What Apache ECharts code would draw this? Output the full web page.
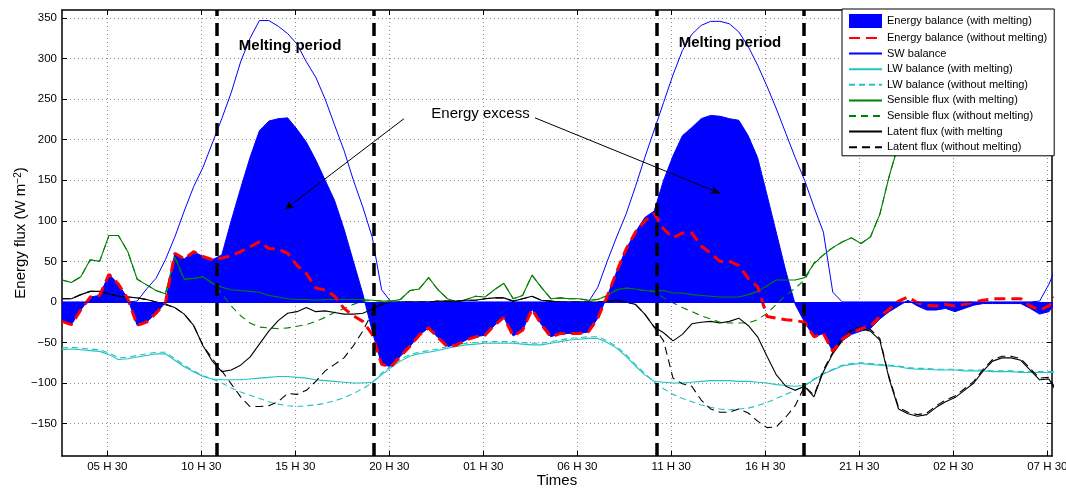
<!DOCTYPE html>
<html>
<head>
<meta charset="utf-8">
<title>Energy balance during melting periods</title>
<script src="https://cdn.jsdelivr.net/npm/echarts@6.0.0/dist/echarts.min.js"></script>
<style>
  html, body { margin: 0; padding: 0; background: #fff; }
  #chart { width: 1066px; height: 488px; }
</style>
</head>
<body>
<div id="chart"></div>
<script>
// Half-hourly samples; time is counted in hours from 00:00 of the first day.
const T0 = 3.09;
const STEP = 0.5;
const X_MIN = 3.09, X_MAX = 55.75;
const Y_MIN = -190, Y_MAX = 360;

const tickHours = [5.5, 10.5, 15.5, 20.5, 25.5, 30.5, 35.5, 40.5, 45.5, 50.5, 55.5];
const tickLabels = ['05 H 30', '10 H 30', '15 H 30', '20 H 30', '01 H 30', '06 H 30',
                    '11 H 30', '16 H 30', '21 H 30', '02 H 30', '07 H 30'];
const yTicks = [-150, -100, -50, 0, 50, 100, 150, 200, 250, 300, 350];

// Start and end of the two melting periods (hours)
const meltBounds = [11.32, 19.69, 34.72, 42.57];

// Energy balance (W m-2)
const energyWithMelt = [
  -24, -28, -10, 6, 8, 34, 22, 4, -29, -25,
  -14, -1, 60, 53, 62, 56, 52, 58, 100, 140,
  178, 211, 223, 226, 227, 213, 197, 175, 150, 125,
  90, 50, 10, -36, -77, -80, -67, -55, -41, -32,
  -44, -55, -53, -47, -43, -41, -29, -19, -42, -35,
  -9, -28, -43, -39, -39, -39, -37, -20, 7, 37,
  65, 86, 104, 112, 150, 180, 205, 215, 226, 230,
  229, 226, 224, 205, 178, 132, 85, 38, -3, -25,
  -43, -39, -61, -48, -40, -36, -33, -21, -12, -5,
  2, -5, -10, -10, -8, -12, -8, -4, -2, -2,
  -2, -2, -2, -8, -15, -12, 5
];
const energyNoMelt = [
  -24, -28, -10, 6, 8, 34, 22, 4, -29, -25,
  -14, -1, 60, 53, 62, 56, 52, 54, 57, 62,
  68, 74, 66, 65, 60, 45, 35, 17, 15, 7,
  -8, -17, -24, -40, -77, -80, -67, -55, -41, -32,
  -44, -55, -53, -47, -43, -41, -29, -19, -42, -35,
  -9, -28, -43, -39, -39, -39, -37, -20, 7, 37,
  65, 86, 100, 109, 90, 79, 85, 85, 69, 60,
  50, 50, 45, 29, 19, -18, -20, -22, -23, -25,
  -43, -39, -61, -46, -38, -33, -30, -18, -9, 1,
  6, -1, -4, -5, -3, -5, -3, 0, 2, 4,
  4, 4, 4, -5, -10, -5, 12
];
// Shortwave balance
const swBalance = [
  0, 0, 0, 0, 0, 0, 0, 0, 1, 16,
  29, 52, 80, 112, 142, 166, 196, 226, 258, 296,
  325, 347, 347, 340, 331, 318, 296, 277, 250, 218,
  187, 150, 117, 80, 15, 0, 0, 0, 0, 0,
  0, 0, 0, 0, 0, 0, 0, 0, 0, 0,
  0, 0, 0, 0, 0, 0, 0, 18, 50, 80,
  108, 142, 178, 212, 246, 280, 310, 330, 341, 346,
  346, 343, 333, 315, 292, 266, 238, 208, 178, 150,
  117, 86, 12, 0, 0, 0, 0, 0, 0, 0,
  0, 0, 0, 0, 0, 0, 0, 0, 0, 0,
  0, 0, 0, 0, 1, 22, 50
];
// Longwave balance
const lwWithMelt = [
  -59, -58, -59, -60, -61, -65, -71, -70, -68, -66,
  -64, -64, -72, -80, -86, -92, -95, -96, -96, -96,
  -95, -94, -93, -92, -92, -93, -94, -96, -97, -98,
  -99, -100, -100, -99, -90, -81, -73, -67, -64, -62,
  -60, -57, -55, -53, -52, -51, -51, -51, -51, -52,
  -53, -53, -51, -49, -47, -46, -45, -45, -50, -57,
  -67, -79, -90, -98, -99, -100, -100, -99, -98, -97,
  -97, -97, -98, -98, -99, -100, -102, -103, -104, -103,
  -96, -89, -84, -79, -77, -76, -77, -78, -79, -80,
  -82, -83, -83, -84, -84, -84, -85, -85, -85, -86,
  -86, -86, -87, -87, -87, -87, -87
];
const lwNoMelt = [
  -57, -56, -57, -58, -59, -63, -69, -68, -66, -64,
  -62, -62, -70, -78, -85, -91, -95, -100, -106, -111,
  -115, -119, -123, -126, -128, -129, -128, -127, -125, -122,
  -118, -113, -107, -100, -88, -79, -71, -65, -62, -60,
  -58, -55, -53, -51, -50, -49, -49, -49, -49, -50,
  -51, -51, -49, -47, -45, -44, -43, -43, -48, -55,
  -65, -77, -88, -99, -107, -114, -119, -123, -127, -130,
  -132, -133, -132, -131, -128, -124, -119, -114, -109, -104,
  -95, -88, -83, -78, -76, -75, -76, -77, -78, -79,
  -81, -82, -82, -83, -83, -83, -84, -84, -84, -85,
  -85, -85, -86, -86, -86, -86, -86
];
// Sensible heat flux
const sensWithMelt = [
  27, 24, 31, 52, 50, 82, 82, 62, 28, 21,
  14, 10, 55, 28, 29, 31, 23, 18, 15, 14,
  13, 12, 8, 6, 4, 3, 3, 2, 3, 3,
  3, 3, 3, 2, 1, 1, 3, 14, 16, 30,
  15, 4, 0, 3, 7, 6, 15, 23, 4, 8,
  33, 18, 4, 5, 4, 4, 2, 3, 8, 15,
  17, 16, 14, 13, 14, 11, 11, 9, 8, 7,
  6, 6, 6, 9, 13, 20, 27, 27, 27, 30,
  47, 58, 67, 74, 79, 72, 80, 108, 155, 195,
  215, 225, 230, 235, 240, 238, 235, 230, 228, 226,
  222, 220, 218, 215, 213, 210, 210
];
const sensNoMelt = [
  27, 24, 31, 52, 50, 82, 82, 62, 28, 21,
  14, 10, 55, 28, 29, 31, 23, 10, -5, -17,
  -26, -31, -32, -33, -32, -30, -28, -24, -19, -13,
  -8, -3, 1, 2, 1, 1, 3, 14, 16, 30,
  15, 4, 0, 3, 7, 6, 15, 23, 4, 8,
  33, 18, 4, 5, 4, 4, 2, 3, 8, 15,
  17, 16, 14, 13, 5, -1, -7, -12, -17, -21,
  -25, -26, -26, -26, -22, -14, -3, 8, 17, 27,
  48, 58, 67, 74, 79, 72, 80, 108, 155, 195,
  215, 225, 230, 235, 240, 238, 235, 230, 228, 226,
  222, 220, 218, 215, 213, 210, 210
];
// Latent heat flux
const latWithMelt = [
  4, 4, 9, 13, 13, 10, 7, 6, 5, 3,
  0, -3, -7, -15, -29, -54, -73, -86, -84, -78,
  -68, -52, -36, -23, -14, -12, -7, -12, -11, -13,
  -15, -15, -14, -9, -2, -1, 0, 0, 0, 0,
  1, 1, 1, 2, 2, 4, 5, 5, 1, 4,
  7, 2, 1, 0, 0, 0, 0, 0, 1, 2,
  0, -3, -15, -31, -38, -48, -40, -27, -25, -24,
  -26, -24, -20, -29, -43, -67, -90, -104, -109, -104,
  -117, -86, -64, -48, -35, -33, -36, -47, -95, -132,
  -138, -141, -139, -130, -123, -118, -109, -100, -85, -73,
  -69, -69, -72, -84, -96, -95, -115
];
const latNoMelt = [
  4, 4, 9, 13, 13, 10, 7, 6, 5, 3,
  0, -3, -7, -15, -29, -54, -70, -85, -101, -117,
  -129, -129, -128, -123, -113, -114, -109, -98, -85, -77,
  -69, -54, -36, -13, -3, -1, 0, 0, 0, 0,
  1, 1, 1, 2, 2, 4, 5, 5, 1, 4,
  7, 2, 1, 0, 0, 0, 0, 0, 1, 2,
  0, -3, -15, -31, -48, -94, -101, -104, -121, -132,
  -136, -136, -132, -137, -147, -155, -154, -142, -128, -104,
  -115, -84, -62, -46, -33, -31, -34, -45, -93, -130,
  -136, -139, -137, -128, -121, -116, -107, -98, -83, -71,
  -67, -67, -70, -82, -94, -93, -113
];

// Annotation positions in data units [hours, W m-2]
const meltLabels = [[15.22, 316], [38.62, 320]];
const excessLabel = [25.35, 232];
const excessArrows = [
  [[21.28, 226], [14.95, 114]],
  [[28.25, 227], [38.09, 134]]
];

const times = energyNoMelt.map((_, i) => +(T0 + i * STEP).toFixed(3));
const pairs = vals => vals.map((v, i) => [times[i], v]);

const FONT = '"Liberation Sans", Arial, Helvetica, sans-serif';
const gridDots = { color: '#8c8c8c', width: 1, type: [1, 3] };

function lineSeries(name, vals, color, width, dash, z) {
  return {
    name, type: 'line', data: pairs(vals), symbol: 'none', silent: true, z: z || 2,
    itemStyle: { color },
    lineStyle: { color, width, type: dash || 'solid' }
  };
}

const legendNames = [
  'Energy balance (with melting)',
  'Energy balance (without melting)',
  'SW balance',
  'LW balance (with melting)',
  'LW balance (without melting)',
  'Sensible flux (with melting)',
  'Sensible flux (without melting)',
  'Latent flux (with melting',
  'Latent flux (without melting)'
];

const chart = echarts.init(document.getElementById('chart'), null, { renderer: 'canvas' });

const option = {
  animation: false,
  backgroundColor: '#ffffff',
  textStyle: { fontFamily: FONT },
  grid: { left: 62, right: 14, top: 10, bottom: 32, show: false, containLabel: false, outerBoundsMode: 'none' },
  xAxis: [{
    type: 'value', min: X_MIN, max: X_MAX,
    name: 'Times', nameLocation: 'middle', nameGap: 17, nameMoveOverlap: false,
    nameTextStyle: { fontSize: 15, color: '#000', fontFamily: FONT },
    axisLine: { show: true, onZero: false, lineStyle: { color: '#000', width: 1.5 } },
    axisTick: { show: true, inside: true, length: 5, customValues: tickHours, lineStyle: { color: '#000', width: 1 } },
    axisLabel: {
      customValues: tickHours, fontSize: 11.5, color: '#000', margin: 5, fontFamily: FONT,
      formatter: v => {
        const k = tickHours.findIndex(h => Math.abs(h - v) < 1e-6);
        return k >= 0 ? tickLabels[k] : '';
      }
    },
    splitLine: { show: true, lineStyle: gridDots }
  }, {
    type: 'value', position: 'top', min: X_MIN, max: X_MAX,
    axisLine: { show: true, onZero: false, lineStyle: { color: '#000', width: 1.5 } },
    axisTick: { show: true, inside: true, length: 5, customValues: tickHours, lineStyle: { color: '#000', width: 1 } },
    axisLabel: { show: false, customValues: tickHours },
    splitLine: { show: false }
  }],
  yAxis: [{
    type: 'value', min: Y_MIN, max: Y_MAX,
    name: 'Energy flux (W m{sup|\u22122})', nameLocation: 'middle', nameGap: 34, nameMoveOverlap: false,
    nameTextStyle: {
      fontSize: 15, color: '#000', fontFamily: FONT,
      rich: { sup: { fontSize: 10, color: '#000', verticalAlign: 'top', fontFamily: FONT } }
    },
    axisLine: { show: true, onZero: false, lineStyle: { color: '#000', width: 1.5 } },
    axisTick: { show: true, inside: true, length: 5, customValues: yTicks, lineStyle: { color: '#000', width: 1 } },
    axisLabel: {
      customValues: yTicks, fontSize: 11.5, color: '#000', margin: 5, fontFamily: FONT,
      formatter: v => String(v).replace('-', '\u2212')
    },
    splitLine: { show: true, lineStyle: gridDots }
  }, {
    type: 'value', position: 'right', min: Y_MIN, max: Y_MAX,
    axisLine: { show: true, onZero: false, lineStyle: { color: '#000', width: 1.5 } },
    axisTick: { show: true, inside: true, length: 5, customValues: yTicks, lineStyle: { color: '#000', width: 1 } },
    axisLabel: { show: false, customValues: yTicks },
    splitLine: { show: false }
  }],
  legend: {
    orient: 'vertical', left: 842, top: 9,
    padding: [5, 7, 3, 6], itemWidth: 33, itemHeight: 14, itemGap: 4.4,
    backgroundColor: '#ffffff', borderColor: '#000', borderWidth: 1, borderRadius: 0,
    selectedMode: false, z: 20,
    textStyle: { fontSize: 11, color: '#000', fontFamily: FONT },
    // line entries show only their stroke, the first entry is a filled patch
    data: legendNames.map((name, i) => i === 0
      ? { name, icon: 'rect' }
      : { name, itemStyle: { opacity: 0 } })
  },
  series: [
    {
      name: 'Energy balance (with melting)', type: 'line', data: pairs(energyWithMelt),
      symbol: 'none', silent: true, z: 1,
      itemStyle: { color: '#0000ff' },
      lineStyle: { color: '#0000ff', width: 1 },
      areaStyle: { color: '#0000ff', opacity: 1, origin: 'auto' },
      markLine: {
        silent: true, symbol: ['none', 'none'], label: { show: false },
        lineStyle: { color: '#0000ff', width: 1.2, type: 'solid' },
        data: [{ yAxis: 0 }]
      }
    },
    lineSeries('SW balance', swBalance, '#0000ff', 1),
    lineSeries('LW balance (with melting)', lwWithMelt, '#22c3c3', 1.1),
    lineSeries('LW balance (without melting)', lwNoMelt, '#22c3c3', 1.1, [6, 4]),
    lineSeries('Sensible flux (with melting)', sensWithMelt, '#008000', 1.1),
    lineSeries('Sensible flux (without melting)', sensNoMelt, '#008000', 1.1, [7, 5]),
    lineSeries('Latent flux (with melting', latWithMelt, '#000000', 1.1),
    lineSeries('Latent flux (without melting)', latNoMelt, '#000000', 1.1, [8, 5]),
    lineSeries('Energy balance (without melting)', energyNoMelt, '#ff0000', 3, [11, 6], 3),
    {
      // melting period boundaries and text annotations
      name: 'melt-bounds', type: 'line', data: [], silent: true, z: 8,
      markLine: {
        silent: true, symbol: ['none', 'none'], label: { show: false },
        lineStyle: { color: '#000', width: 3.5, type: [13, 7] },
        data: meltBounds.map(h => ({ xAxis: h }))
      },
      markPoint: {
        silent: true, symbol: 'circle', symbolSize: 1, itemStyle: { color: 'rgba(0,0,0,0)' },
        data: meltLabels.map(c => ({
          coord: c, name: 'Melting period',
          label: { show: true, position: 'inside', formatter: '{b}', fontSize: 15, fontWeight: 'bold', color: '#000', fontFamily: FONT }
        })).concat([{
          coord: excessLabel, name: 'Energy excess',
          label: { show: true, position: 'inside', formatter: '{b}', fontSize: 15, color: '#000', fontFamily: FONT }
        }])
      }
    },
    {
      name: 'excess-arrows', type: 'line', data: [], silent: true, z: 9,
      markLine: {
        silent: true, symbol: ['none', 'arrow'], symbolSize: [6, 9], label: { show: false },
        lineStyle: { color: '#000', width: 1, type: 'solid' },
        data: excessArrows.map(([a, b]) => [{ coord: a }, { coord: b }])
      }
    }
  ]
};

chart.setOption(option);
</script>
</body>
</html>
